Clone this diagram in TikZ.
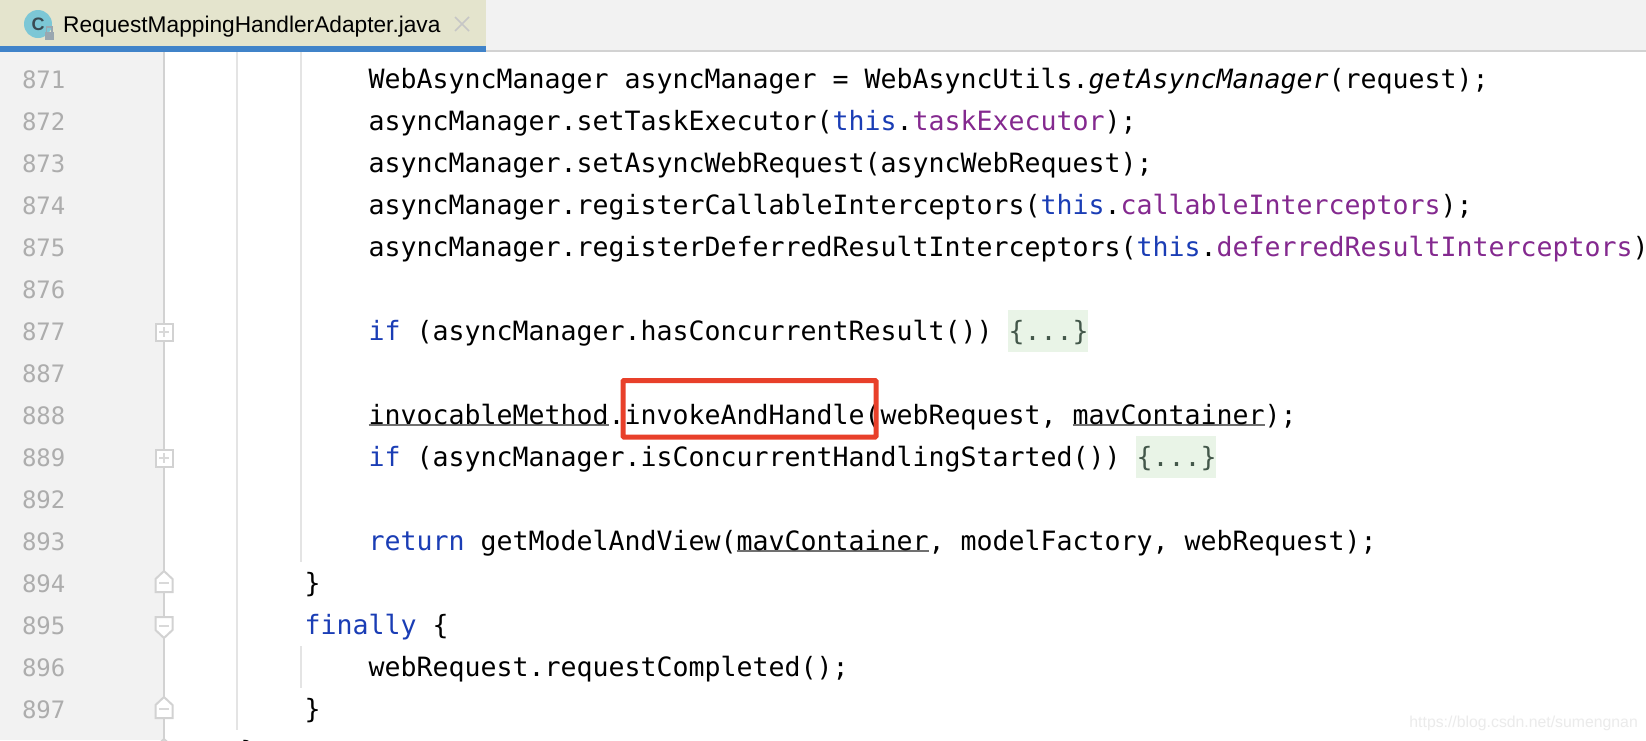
\documentclass[tikz,border=0pt]{standalone}
\usepackage{fontspec}
\setmainfont{Liberation Sans}
\setmonofont{DejaVu Sans Mono}
\definecolor{kw}{HTML}{1A3DB5}
\definecolor{fld}{HTML}{84298F}
\definecolor{gut}{HTML}{F2F2F2}
\definecolor{gutline}{HTML}{D2D2D2}
\definecolor{guide}{HTML}{E4E4E4}
\definecolor{lnum}{HTML}{ADADAD}
\definecolor{tabbg}{HTML}{E4E4CD}
\definecolor{tabline}{HTML}{4083C9}
\definecolor{foldbg}{HTML}{E9F4E7}
\definecolor{foldtx}{HTML}{43574A}
\definecolor{redbox}{HTML}{E8402A}
\definecolor{ulc}{HTML}{707070}
\definecolor{iconbg}{HTML}{7CC7D6}
\definecolor{iconfg}{HTML}{3A4A52}
\definecolor{lockc}{HTML}{9AA7B0}
\newcommand{\ulx}[1]{\setbox0\hbox{#1}\leavevmode\rlap{\textcolor{ulc}{\rule[-2.4pt]{\wd0}{2pt}}}\box0}
\newcommand{\kwd}[1]{\textcolor{kw}{#1}}
\newcommand{\fldn}[1]{\textcolor{fld}{#1}}
\tikzset{
  x=1pt,y=-1pt,
  code/.style={anchor=base west,inner sep=0pt,outer sep=0pt,font=\fontsize{26.58}{30}\selectfont\ttfamily,text=black},
  lno/.style={anchor=base west,inner sep=0pt,outer sep=0pt,font=\fontsize{24}{28}\selectfont\ttfamily,text=lnum},
  folded/.style={code,text=foldtx},
  foldbox/.style={fill=foldbg,draw=none},
  guideline/.style={draw=guide,line width=2pt},
  marker/.style={draw=gutline,fill=white,line width=2pt,line join=miter},
  markerin/.style={draw=gutline!85,line width=1.6pt}
}
\newcommand{\lnum}[2]{\node[lno] (n#1) at (22,{88+42*#2}) {#1};}
\newcommand{\markplus}[1]{%
  \draw[marker] (155.5,{#1-8.5}) rectangle (172.5,{#1+8.5});
  \draw[markerin] (159,#1) -- (169,#1) (164,{#1-5}) -- (164,{#1+5});}
\newcommand{\markup}[1]{%
  \draw[marker] (155.5,{#1+9}) -- (155.5,{#1-4}) -- (164,{#1-12}) -- (172.5,{#1-4}) -- (172.5,{#1+9}) -- cycle;
  \draw[markerin] (159,#1) -- (169,#1);}
\newcommand{\markdn}[1]{%
  \draw[marker] (155.5,{#1-9}) -- (155.5,{#1+4}) -- (164,{#1+12}) -- (172.5,{#1+4}) -- (172.5,{#1-9}) -- cycle;
  \draw[markerin] (159,#1) -- (169,#1);}
\begin{document}
\begin{tikzpicture}
\useasboundingbox (0,0) rectangle (1646,740);
\clip (0,0) rectangle (1646,740);
\fill[white] (0,0) rectangle (1646,740);
% top bar
\fill[gut] (486,0) rectangle (1646,50);
\fill[gutline] (486,50) rectangle (1646,52);
\fill[tabbg] (0,0) rectangle (486,46);
\fill[tabline] (0,46) rectangle (486,52);
% tab icon
\fill[iconbg] (38,24) circle (14);
\node[inner sep=0pt,text=iconfg,font=\bfseries\fontsize{18}{20}\selectfont] (iconC) at (38,24) {C};
\fill[lockc] (44.5,32) rectangle (54,40);
\draw[lockc,line width=1.4pt] (46.5,32) -- (46.5,27) -- (52,27) -- (52,32);
\node[anchor=base west,inner sep=0pt,font=\fontsize{22.7}{28}\selectfont,text=black] (tabtitle) at (63,32) {RequestMappingHandlerAdapter.java};
\draw[gray!45,line width=1.5pt] (455,17) -- (469,31) (469,17) -- (455,31);
% gutter
\fill[gut] (0,52) rectangle (163,740);
\fill[gutline] (163,52) rectangle (165,740);
% indent guides
\draw[guideline] (237,52) -- (237,730);
\draw[guideline] (301,52) -- (301,562);
\draw[guideline] (301,646) -- (301,688);
% line numbers
\lnum{871}{0}\lnum{872}{1}\lnum{873}{2}\lnum{874}{3}\lnum{875}{4}\lnum{876}{5}\lnum{877}{6}\lnum{887}{7}
\lnum{888}{8}\lnum{889}{9}\lnum{892}{10}\lnum{893}{11}\lnum{894}{12}\lnum{895}{13}\lnum{896}{14}\lnum{897}{15}
% fold markers
\markplus{332}
\markplus{458}
\markup{583}
\markdn{626}
\markup{709}
\markup{751}
% folded backgrounds
\fill[foldbox] (1008,310) rectangle (1088,352);
\fill[foldbox] (1136,436) rectangle (1216,478);
% code
\node[code] (c871) at (368.5,88) {WebAsyncManager asyncManager = WebAsyncUtils.\textit{getAsyncManager}(request);};
\node[code] (c872) at (368.5,130) {asyncManager.setTaskExecutor(\kwd{this}.\fldn{taskExecutor});};
\node[code] (c873) at (368.5,172) {asyncManager.setAsyncWebRequest(asyncWebRequest);};
\node[code] (c874) at (368.5,214) {asyncManager.registerCallableInterceptors(\kwd{this}.\fldn{callableInterceptors});};
\node[code] (c875) at (368.5,256) {asyncManager.registerDeferredResultInterceptors(\kwd{this}.\fldn{deferredResultInterceptors});};
\node[code] (c877) at (368.5,340) {\kwd{if} (asyncManager.hasConcurrentResult())};
\node[folded] (f877) at (1008.5,340) {\{...\}};
\node[code] (c888) at (368.5,424) {\ulx{invocableMethod}.invokeAndHandle(webRequest, \ulx{mavContainer});};
\node[code] (c889) at (368.5,466) {\kwd{if} (asyncManager.isConcurrentHandlingStarted())};
\node[folded] (f889) at (1136.5,466) {\{...\}};
\node[code] (c893) at (368.5,550) {\kwd{return} getModelAndView(\ulx{mavContainer}, modelFactory, webRequest);};
\node[code] (c894) at (304.5,592) {\}};
\node[code] (c895) at (304.5,634) {\kwd{finally} \{};
\node[code] (c896) at (368.5,676) {webRequest.requestCompleted();};
\node[code] (c897) at (304.5,718) {\}};
\node[code] (c898) at (240.5,760) {\}};
% red highlight
\draw[redbox,line width=5pt,rounded corners=1pt] (623,380.5) rectangle (876,437);
% watermark
\node[anchor=base east,inner sep=0pt,font=\fontsize{15.8}{18}\selectfont,text=black!8] (wm) at (1638,727) {https://blog.csdn.net/sumengnan};
\end{tikzpicture}
\end{document}
